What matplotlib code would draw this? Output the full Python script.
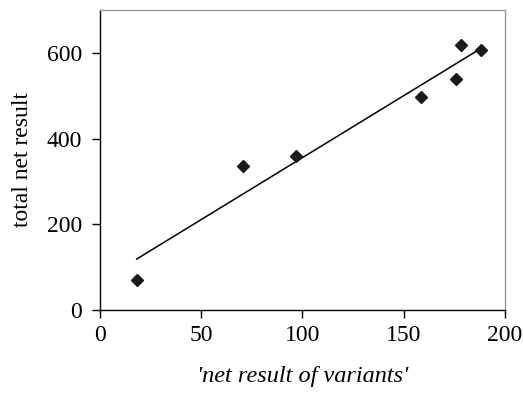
import matplotlib.pyplot as plt
import numpy as np

# datos
net_variants = [18.1, 70.4, 96.8, 158.5, 175.8, 178.1, 188.1]
total_net = [71, 337, 359, 496, 539, 618, 606]
x_ticks = [0, 50, 100, 150, 200]
y_ticks = [0, 200, 400, 600]

plt.rcParams['font.family'] = ['Liberation Serif', 'DejaVu Serif']

fig = plt.figure(figsize=(5.24, 3.98), dpi=100)
ax = fig.add_axes([0.1908, 0.2211, 0.7729, 0.7538])

# linea de tendencia (regresion lineal)
x = np.array(net_variants)
slope, intercept = np.polyfit(x, total_net, 1)
xs = np.array([x.min(), x.max()])
ax.plot(xs, slope * xs + intercept, color='black', lw=1.1)

ax.plot(net_variants, total_net, 'D', color='#1a1a1a', markersize=6.5)

ax.set_xlim(0, 200)
ax.set_ylim(0, 700)
ax.set_xticks(x_ticks)
ax.set_yticks(y_ticks)
ax.tick_params(direction='out', length=6, width=1, labelsize=17)
ax.tick_params(axis='y', pad=7)
ax.tick_params(axis='x', pad=5)

for side in ['left', 'bottom']:
    ax.spines[side].set_color('black')
    ax.spines[side].set_linewidth(1)
for side in ['top', 'right']:
    ax.spines[side].set_color('#999999')
    ax.spines[side].set_linewidth(1)

ax.set_xlabel("'net result of variants'", fontsize=17.5, style='italic', labelpad=14)
ax.set_ylabel('total net result', fontsize=17, labelpad=10)

fig.savefig('out.png', dpi=100)
